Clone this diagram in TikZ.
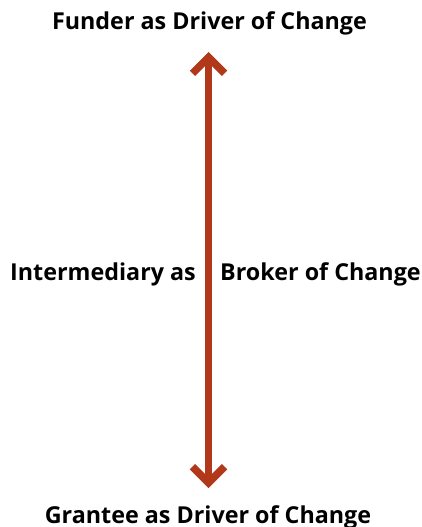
\documentclass[tikz,border=0pt]{standalone}
\usepackage{fontspec}
\setmainfont{Open Sans}
\usetikzlibrary{arrows.meta}
\definecolor{rust}{HTML}{B1391A}
\tikzset{
  lbl/.style={font=\bfseries\fontsize{23.3}{28}\selectfont, inner sep=0pt, anchor=base, text=black},
  bigarrow/.style={draw=rust, line width=7.5pt, {Straight Barb[length=16pt,width=32pt,line join=miter]}-{Straight Barb[length=16pt,width=32pt,line join=miter]}}
}
\begin{document}
\begin{tikzpicture}[x=1pt,y=-1pt]
\useasboundingbox (0,0) rectangle (422,527);
\node[lbl] (funder) at (209.5,30) {Funder as Driver of Change};
\node[lbl] (grantee) at (208,523) {Grantee as Driver of Change};
\node[lbl, anchor=base east] (inter) at (196,280) {Intermediary as};
\node[lbl, anchor=base west] (broker) at (220,280) {Broker of Change};
\coordinate (top) at (208.5,52);
\coordinate (bot) at (208.5,488);
\draw[bigarrow] (top) -- (bot);
\end{tikzpicture}
\end{document}
